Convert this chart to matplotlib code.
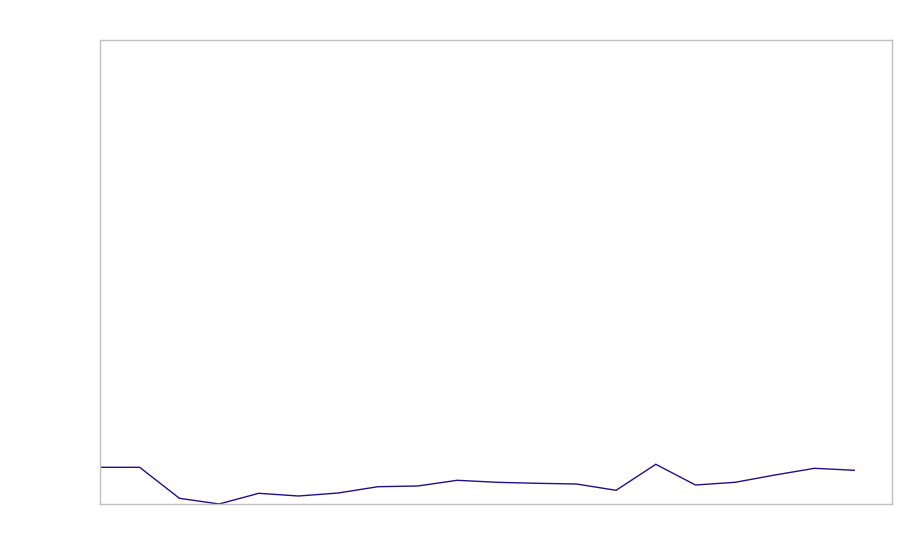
import matplotlib
matplotlib.use("Agg")
import matplotlib.pyplot as plt

# Series values (arbitrary units; no axis labels shown)
categories = list(range(20))
values = [36.7, 36.7, 5.7, 0.0, 10.7, 8.0, 11.0, 17.3, 18.0, 23.7,
          21.7, 20.7, 20.0, 13.7, 39.7, 19.0, 21.7, 29.0, 35.7, 33.7]

fig = plt.figure(figsize=(9, 5.6), dpi=100)
ax = fig.add_axes([100 / 900, 56 / 560, 792 / 900, 464 / 560])
ax.plot(categories, values, color="#220f8c", linewidth=1.0, solid_joinstyle="miter")
ax.set_xlim(0, 19.95)
ax.set_ylim(0, 464)
ax.set_xticks([])
ax.set_yticks([])
for s in ax.spines.values():
    s.set_color("#c0c0c0")
    s.set_linewidth(1.0)
fig.savefig("out.png", dpi=100)
